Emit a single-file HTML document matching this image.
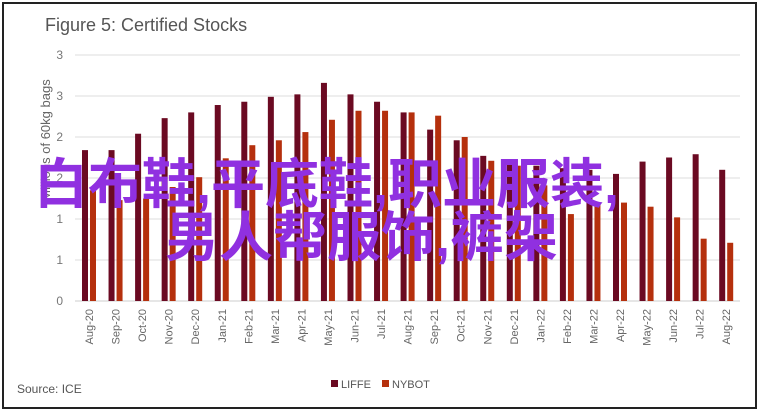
<!DOCTYPE html>
<html><head><meta charset="utf-8"><style>
body{margin:0;background:#fff;width:758px;height:411px;overflow:hidden;font-family:"Liberation Sans",sans-serif}
#frame{position:absolute;left:2px;top:2px;width:751px;height:403px;border:2px solid #222;}
.ov{position:absolute;color:#9030e0;font-family:"Liberation Sans","Noto Sans CJK SC",sans-serif;font-weight:bold;font-size:54px;line-height:54px;white-space:nowrap}
</style></head><body>
<div id="frame"></div>
<svg id="chart" width="758" height="411" style="position:absolute;left:0;top:0">
<text x="45" y="31" font-size="18" fill="#555">Figure 5: Certified Stocks</text>
<text transform="translate(50,140) rotate(-90)" text-anchor="middle" font-size="13" fill="#666">Millions of 60kg bags</text>
<text x="17" y="393" font-size="12" fill="#555">Source: ICE</text>
<g>
<rect x="331" y="380" width="7" height="7" fill="#6b0a22"/>
<text x="341" y="388" font-size="11" fill="#555">LIFFE</text>
<rect x="382" y="380" width="7" height="7" fill="#b5300d"/>
<text x="392" y="388" font-size="11" fill="#555">NYBOT</text>
</g>
<g id="grid"></g><g id="bars"></g><g id="xl"></g>
</svg>
<div class="ov" style="left:34px;top:158px">白布鞋,平底鞋,职业服装,</div>
<div class="ov" style="left:165px;top:211px">男人帮服饰,裤架</div>
<script>
const categories=["Aug-20","Sep-20","Oct-20","Nov-20","Dec-20","Jan-21","Feb-21","Mar-21","Apr-21","May-21","Jun-21","Jul-21","Aug-21","Sep-21","Oct-21","Nov-21","Dec-21","Jan-22","Feb-22","Mar-22","Apr-22","May-22","Jun-22","Jul-22","Aug-22"];
const liffe=[1.84,1.84,2.04,2.23,2.30,2.39,2.43,2.49,2.52,2.66,2.52,2.43,2.30,2.09,1.96,1.77,1.68,1.65,1.62,1.60,1.55,1.70,1.75,1.79,1.60];
const nybot=[1.35,1.23,1.25,1.39,1.51,1.74,1.90,1.96,2.06,2.21,2.32,2.32,2.30,2.26,2.00,1.71,1.65,1.41,1.06,1.17,1.20,1.15,1.02,0.76,0.71];
const tickValues=[0,0.5,1,1.5,2,2.5,3];
const tickLabels=["0","1","1","2","2","3","3"];
const NS="http://www.w3.org/2000/svg";
const y0=301,pxPerUnit=82,x0=82,step=26.55,bw=6;
const yS=v=>y0-v*pxPerUnit, xS=i=>x0+i*step;
function mk(t,a,p){const e=document.createElementNS(NS,t);for(const k in a)e.setAttribute(k,a[k]);p.appendChild(e);return e;}
const g=document.getElementById('grid'),b=document.getElementById('bars'),xl=document.getElementById('xl');
tickValues.forEach((v,i)=>{
 const l=mk('line',{x1:75,x2:740,y1:yS(v),y2:yS(v),stroke:i==0?'#ccc':'#ddd','stroke-width':1},g);
 
 
 const t=mk('text',{x:63,y:yS(v)+4,'text-anchor':'end','font-size':12,fill:'#777'},g);
 t.textContent=tickLabels[i];
 
 
});
categories.forEach((c,i)=>{
 const r1=mk('rect',{x:xS(i),y:yS(liffe[i]),width:bw,height:liffe[i]*pxPerUnit,fill:'#6b0a22'},b);
 
 
 const r2=mk('rect',{x:xS(i)+8,y:yS(nybot[i]),width:bw,height:nybot[i]*pxPerUnit,fill:'#b5300d'},b);
 
 
 const cx=xS(i)+7;
 const t=mk('text',{transform:`translate(${cx+4},309) rotate(-90)`,'text-anchor':'end','font-size':11,fill:'#666'},xl);
 t.textContent=c;
 
 
});
</script>
</body></html>
